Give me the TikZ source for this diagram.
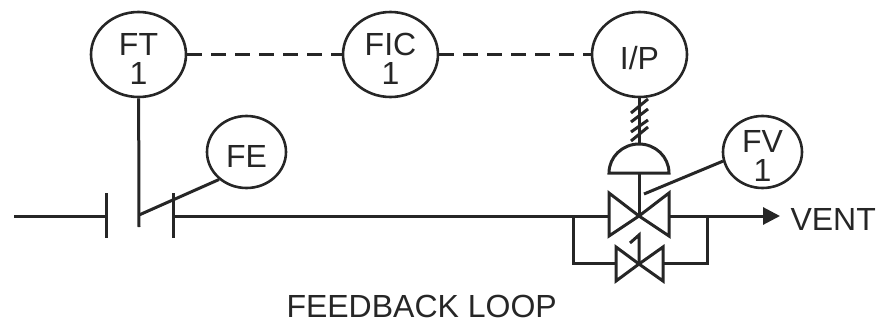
\documentclass[tikz,border=0pt]{standalone}
\usepackage{fontspec}
\setmainfont{Liberation Sans}
\usepackage{tikz}
\usetikzlibrary{shapes.geometric, arrows.meta}

\begin{document}
\begin{tikzpicture}[x=1pt, y=-1pt, line width=3pt, color={black!85},
        font=\fontsize{32}{29}\selectfont,
        main/.style = {draw, ellipse, line width=2.6pt, align=center, text height=30pt, inner sep=-8pt, minimum width=95pt, minimum height=85pt},
        small/.style = {main, minimum width=79pt, minimum height=72pt},
        pair/.style = {text height=59pt},
        desc/.style = {inner sep=0pt, anchor=base west},
        sig/.style = {dash pattern=on 15pt off 9pt}]
    \useasboundingbox (0,0) rectangle (876,324);
    \node[main, pair] (ft) at (138.5,54.5) {FT\\1};
    \node[main, pair] (fic) [right of=ft, node distance = 252pt] {FIC\\1};
    \node[main] (ip) [right of=fic, node distance = 249pt] {I/P};
    \node[small] (fe) at (246.5,152) {FE};
    \node[small, pair] (fv) at (762.5,152) {FV\\1};
    \node[desc] (vent) at (789,230) {VENT};
    \node[desc] (loop) at (285,317) {FEEDBACK LOOP};
    % pipe and orifice plates
    \coordinate (in) at (14,216);
    \coordinate (pl) at (106,216);
    \coordinate (pr) at (173,216);
    \coordinate (vl) at (609,216);
    \coordinate (vr) at (669,216);
    \coordinate (vc) at (639,216);
    \coordinate (tip) at (780,216);
    \coordinate (tap) at (139,215);
    \draw (in) -- (pl);
    \draw (pr) -- (vl);
    \draw[-{Triangle[length=17pt, width=17pt]}] (vr) -- (tip);
    \draw (106,193) -- (106,238);
    \draw (173,193) -- (173,238);
    \draw (ft) -- (139,227);
    \draw (tap) -- (fe.225);
    % signal lines
    \draw[sig] (ft) -- (fic);
    \draw[sig] (fic) -- (ip);
    \coordinate (dome) at (639.5,144);
    \draw (ip) -- (dome);
    \draw (631,113) -- (648,99);
    \draw (631,122) -- (648,109);
    \draw (631,132) -- (648,120);
    \draw (631,141) -- (648,127);
    % control valve
    \draw[line join=miter] (609,173) arc[start angle=180, end angle=0, x radius=30pt, y radius=29pt] -- cycle;
    \draw (639,173) -- (vc);
    \draw[line join=miter] (vc) -- (609,193) -- (609,236) -- cycle;
    \draw[line join=miter] (vc) -- (669,193) -- (669,236) -- cycle;
    \draw (fv.193) -- (644,194);
    % bypass valve
    \coordinate (bc) at (639,264);
    \draw (573,216) -- (573,263) -- (616,263);
    \draw (707,216) -- (707,263) -- (663,263);
    \draw[line join=miter] (bc) -- (616,247) -- (616,281) -- cycle;
    \draw[line join=miter] (bc) -- (663,247) -- (663,281) -- cycle;
    \draw (bc) -- (639,235) -- (630,243);
\end{tikzpicture}
\end{document}
